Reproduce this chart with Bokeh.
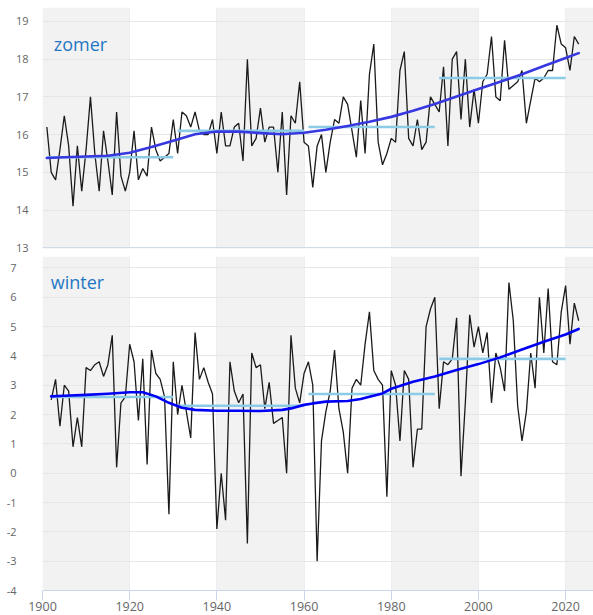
from bokeh.plotting import figure
from bokeh.layouts import column
from bokeh.models import BoxAnnotation, FixedTicker, Label, Range1d, Span
from bokeh.embed import file_html
from bokeh.resources import INLINE

# --- De Bilt seasonal mean temperature (°C) ---
summer_years = list(range(1901, 2024))
summer_temp = [
    16.2, 15.0, 14.8, 15.6, 16.5, 15.7, 14.1, 15.7, 14.5, 15.6,
    17.0, 15.5, 14.5, 16.1, 15.3, 14.4, 16.6, 14.9, 14.5, 15.0,
    16.1, 14.8, 15.1, 14.9, 16.2, 15.6, 15.3, 15.4, 15.5, 16.4,
    15.5, 16.6, 16.5, 16.2, 16.6, 16.1, 16.0, 16.0, 16.4, 15.5,
    16.6, 15.7, 15.7, 16.2, 16.3, 15.3, 18.0, 15.7, 15.9, 16.7,
    15.8, 16.2, 16.2, 15.0, 16.6, 14.4, 16.5, 16.3, 17.4, 15.8,
    15.7, 14.6, 15.7, 16.0, 15.0, 15.8, 16.4, 16.3, 17.0, 16.8,
    16.1, 15.4, 16.9, 15.5, 17.6, 18.4, 15.8, 15.2, 15.5, 15.9,
    15.8, 17.7, 18.2, 15.9, 15.7, 16.4, 15.6, 15.8, 17.0, 16.8,
    16.6, 17.8, 15.7, 18.0, 18.2, 16.4, 18.0, 16.2, 17.2, 16.3,
    17.4, 17.6, 18.6, 17.0, 16.9, 18.5, 17.2, 17.3, 17.4, 17.7,
    16.3, 16.9, 17.5, 17.4, 17.5, 17.7, 17.7, 18.9, 18.4, 18.3,
    17.7, 18.6, 18.4,
]

winter_years = list(range(1902, 2024))
winter_temp = [
    2.5, 3.2, 1.6, 3.0, 2.8, 0.9, 1.9, 0.9, 3.6,
    3.5, 3.7, 3.8, 3.3, 3.7, 4.7, 0.2, 2.4, 2.6, 4.4,
    3.8, 1.8, 3.9, 0.3, 4.2, 3.4, 3.2, 2.6, -1.4, 3.8,
    2.0, 3.0, 2.1, 1.2, 4.8, 3.2, 3.6, 3.1, 2.7, -1.9,
    0.0, -1.6, 3.8, 2.8, 2.4, 2.7, -2.4, 4.1, 3.6, 3.7,
    2.2, 3.1, 1.7, 1.8, 1.9, 0.0, 4.7, 2.9, 2.4, 3.4,
    3.8, 3.0, -3.0, 1.1, 2.1, 2.8, 4.2, 2.2, 1.4, 0.0,
    2.9, 3.2, 3.0, 4.4, 5.5, 3.5, 3.2, 3.0, -0.8, 3.5,
    3.0, 1.1, 3.5, 3.2, 0.2, 1.5, 1.5, 5.0, 5.6, 6.0,
    2.2, 3.8, 3.7, 3.9, 5.3, -0.1, 2.4, 5.4, 4.3, 5.0,
    4.1, 4.8, 2.4, 4.1, 3.6, 2.8, 6.5, 5.2, 2.3, 1.1,
    2.1, 4.1, 2.9, 6.0, 4.1, 6.3, 3.8, 3.7, 5.5, 6.4,
    4.4, 5.8, 5.2,
]

# smoothed trend
summer_trend_years = [1901, 1905, 1910, 1915, 1920, 1925, 1930, 1935, 1940, 1945,
                      1950, 1955, 1960, 1965, 1970, 1975, 1980, 1985, 1990, 1995,
                      2000, 2005, 2010, 2015, 2020, 2023]
summer_trend = [15.38, 15.40, 15.42, 15.44, 15.52, 15.67, 15.84, 16.01, 16.08, 16.08,
                16.04, 16.01, 16.05, 16.13, 16.23, 16.34, 16.47, 16.63, 16.81, 17.01,
                17.21, 17.40, 17.60, 17.82, 18.03, 18.16]

winter_trend_years = [1902, 1905, 1910, 1915, 1920, 1923, 1926, 1929, 1932, 1935,
                      1940, 1945, 1950, 1955, 1957, 1960, 1962, 1965, 1970, 1973,
                      1975, 1978, 1980, 1985, 1990, 1995, 2000, 2005, 2010, 2015,
                      2020, 2023]
winter_trend = [2.62, 2.64, 2.67, 2.71, 2.76, 2.76, 2.62, 2.40, 2.23, 2.16,
                2.13, 2.13, 2.12, 2.16, 2.21, 2.33, 2.38, 2.44, 2.46, 2.53,
                2.61, 2.72, 2.88, 3.12, 3.30, 3.52, 3.72, 3.95, 4.22, 4.48,
                4.73, 4.92]

# 30-year normals
period_start = [1901, 1931, 1961, 1991]
period_end = [1930, 1960, 1990, 2020]
summer_normals = [15.4, 16.1, 16.2, 17.5]
winter_normals = [2.6, 2.3, 2.7, 3.9]

x_ticks = [1900, 1920, 1940, 1960, 1980, 2000, 2020]
band_starts = [1900, 1940, 1980, 2020]

FONT = "Open Sans"
AXIS_COLOR = "#ccd6eb"


def make_panel(years, temps, t_years, t_vals, normals, first_year, y_lo, y_hi,
               y_ticks, title, title_x, title_y, height, border_top, border_bottom,
               trend_color, show_x_axis, y_standoff):
    p = figure(width=593, height=height,
               x_range=Range1d(1900, 2026.4), y_range=Range1d(y_lo, y_hi),
               output_backend="svg", toolbar_location=None,
               min_border_left=42, min_border_right=0,
               min_border_top=border_top, min_border_bottom=border_bottom)
    p.outline_line_color = None

    for s in band_starts:
        p.add_layout(BoxAnnotation(left=s, right=s + 20, fill_color="#f2f2f2",
                                   fill_alpha=1.0, line_color=None, level="image"))

    p.ygrid.ticker = FixedTicker(ticks=y_ticks)
    p.ygrid.grid_line_color = "#e6e6e6"
    p.xgrid.ticker = FixedTicker(ticks=x_ticks)
    p.xgrid.grid_line_color = "#eceef4"

    p.yaxis.ticker = FixedTicker(ticks=y_ticks)
    p.yaxis.major_label_overrides = {t: str(t) for t in y_ticks}
    p.yaxis.axis_line_color = None
    p.yaxis.major_tick_line_color = None
    p.yaxis.minor_tick_line_color = None
    p.yaxis.major_label_text_color = "#666666"
    p.yaxis.major_label_text_font = FONT
    p.yaxis.major_label_text_font_size = "11px"
    p.yaxis.major_label_standoff = y_standoff

    if show_x_axis:
        p.xaxis.ticker = FixedTicker(ticks=x_ticks)
        p.xaxis.axis_line_color = AXIS_COLOR
        p.xaxis.major_tick_line_color = AXIS_COLOR
        p.xaxis.minor_tick_line_color = None
        p.xaxis.major_tick_in = 0
        p.xaxis.major_tick_out = 10
        p.xaxis.major_label_text_color = "#666666"
        p.xaxis.major_label_text_font = FONT
        p.xaxis.major_label_text_font_size = "12.5px"
        p.xaxis.major_label_standoff = 1
    else:
        # shared time axis: only a base line on the upper panel
        p.xaxis.visible = False
        p.add_layout(Span(location=13, dimension="width",
                          line_color=AXIS_COLOR, line_width=1))

    # yearly values
    p.line(years, temps, line_color="#1a1a1a", line_width=1.3)

    # 30-year normals
    starts = [max(s, first_year) for s in period_start]
    p.segment(x0=starts, y0=normals, x1=period_end, y1=normals,
              line_color="#8ccbe6", line_width=2.6)

    # trend
    p.line(t_years, t_vals, line_color=trend_color, line_width=2.6,
           line_join="round", line_cap="round")

    p.add_layout(Label(x=title_x, y=title_y, text=title,
                       text_font=FONT, text_font_size="18px",
                       text_color="#1f77c4", text_baseline="alphabetic"))
    return p


top = make_panel(summer_years, summer_temp, summer_trend_years, summer_trend,
                 summer_normals, 1901, 12.98, 19.37, list(range(13, 20)),
                 "zomer", 1902.6, 18.41, 256, 7, 8, "#3838e0", False, 8)

bottom = make_panel(winter_years, winter_temp, winter_trend_years, winter_trend,
                    winter_normals, 1902, -4, 7.39, list(range(-4, 8)),
                    "winter", 1901.9, 6.52, 359, 0, 25, "#0000f5", True, 20)

layout = column(top, bottom, spacing=0)

with open("out.html", "w") as f:
    f.write(file_html(layout, INLINE))
